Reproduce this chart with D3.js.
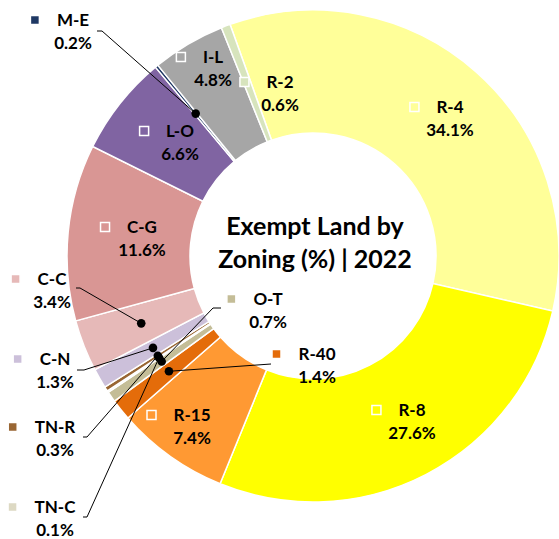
<!DOCTYPE html>
<html>
<head>
<meta charset="utf-8">
<script src="https://cdn.jsdelivr.net/npm/d3@7"></script>
<style>
    body { margin: 0; background: #fff; }
    svg { display: block; font-family: Lato, "Open Sans", sans-serif; font-weight: bold; }
</style>
</head>
<body>
<div id="app"></div>
<script>
"use strict";

// data, clockwise from the big R-4 slice
const categories = ["R-4", "R-8", "R-15", "R-40", "O-T", "TN-C", "TN-R", "C-N", "C-C", "C-G", "L-O", "M-E", "I-L", "R-2"];
const shares = [34.1, 27.6, 7.4, 1.4, 0.7, 0.1, 0.3, 1.3, 3.4, 11.6, 6.6, 0.2, 4.8, 0.6];
const sliceColors = ["#FFFF99", "#FFFF00", "#FF9933", "#E46C0A", "#C4BD97", "#DDD9C3", "#996633",
    "#CCC0DA", "#E6B9B8", "#D99694", "#8064A2", "#1F3864", "#A6A6A6", "#D7E4BD"];
const titleLines = ["Exempt Land by", "Zoning (%) | 2022"];

// label layout: center x, first line y, and leader start (x, y, elbow x) when the label sits away from its slice
const labelLayout = {
    "R-4":  { x: 450, y: 107 },
    "R-8":  { x: 412, y: 410 },
    "R-15": { x: 192, y: 415 },
    "R-40": { x: 317, y: 354, leader: [271, 364, 271] },
    "O-T":  { x: 268, y: 299, leader: [221, 308, 213] },
    "TN-C": { x: 55,  y: 507, leader: [83, 517, 87] },
    "TN-R": { x: 55,  y: 427, leader: [83, 437, 87] },
    "C-N":  { x: 55,  y: 359, leader: [77, 370, 84] },
    "C-C":  { x: 52,  y: 279, leader: [76, 288, 80] },
    "C-G":  { x: 142, y: 227 },
    "L-O":  { x: 180, y: 131 },
    "M-E":  { x: 73,  y: 20,  leader: [97, 31, 102] },
    "I-L":  { x: 213, y: 57 },
    "R-2":  { x: 280, y: 82 }
};

const width = 559, height = 539;
const cx = 313, cy = 256;
const outerR = 246, innerR = 123;
const startAngle = -19.7 * Math.PI / 180;

const svg = d3.select("#app").append("svg")
    .attr("width", width)
    .attr("height", height);

const pie = d3.pie()
    .sort(null)
    .value(d => d.share)
    .startAngle(startAngle)
    .endAngle(startAngle + 2 * Math.PI);

const rows = categories.map((name, i) => ({ name: name, share: shares[i], color: sliceColors[i] }));
const arcs = pie(rows);

const arc = d3.arc().innerRadius(innerR).outerRadius(outerR);
const midArc = d3.arc().innerRadius((innerR + outerR) / 2).outerRadius((innerR + outerR) / 2);

const chart = svg.append("g").attr("transform", `translate(${cx},${cy})`);

chart.selectAll("path.slice")
    .data(arcs)
    .enter()
    .append("path")
    .attr("class", "slice")
    .attr("d", arc)
    .attr("fill", d => d.data.color)
    .attr("stroke", "#fff")
    .attr("stroke-width", 1.5);

// title in the hole
svg.append("g")
    .selectAll("text")
    .data(titleLines)
    .enter()
    .append("text")
    .attr("x", cx + 2)
    .attr("y", (d, i) => 235 + i * 33)
    .attr("text-anchor", "middle")
    .attr("font-size", "25px")
    .attr("fill", "#000")
    .text(d => d);

// leader lines and dots
const withLeader = arcs.filter(d => labelLayout[d.data.name].leader);

svg.append("g")
    .selectAll("polyline")
    .data(withLeader)
    .enter()
    .append("polyline")
    .attr("fill", "none")
    .attr("stroke", "#000")
    .attr("stroke-width", 1)
    .attr("points", d => {
        const [lx, ly, ex] = labelLayout[d.data.name].leader;
        const [px, py] = midArc.centroid(d);
        return `${lx},${ly} ${ex},${ly} ${px + cx},${py + cy}`;
    });

svg.append("g")
    .selectAll("circle")
    .data(withLeader)
    .enter()
    .append("circle")
    .attr("cx", d => midArc.centroid(d)[0] + cx)
    .attr("cy", d => midArc.centroid(d)[1] + cy)
    .attr("r", 4.3)
    .attr("fill", "#000");

// data labels: key square + name, value underneath
const labels = svg.append("g")
    .selectAll("g")
    .data(arcs)
    .enter()
    .append("g");

labels.append("text")
    .attr("class", "name")
    .attr("x", d => labelLayout[d.data.name].x)
    .attr("y", d => labelLayout[d.data.name].y)
    .attr("dy", "0.36em")
    .attr("text-anchor", "middle")
    .attr("font-size", "17px")
    .text(d => d.data.name);

labels.append("text")
    .attr("x", d => labelLayout[d.data.name].x)
    .attr("y", d => labelLayout[d.data.name].y + 23)
    .attr("dy", "0.36em")
    .attr("text-anchor", "middle")
    .attr("font-size", "17px")
    .text(d => d3.format(".1f")(d.data.share) + "%");

labels.each(function(d) {
    const g = d3.select(this);
    const w = g.select("text.name").node().getComputedTextLength();
    const pos = labelLayout[d.data.name];
    g.insert("rect", "text")
        .attr("x", pos.x - w / 2 - 22 - 4.5)
        .attr("y", pos.y - 4.5)
        .attr("width", 9)
        .attr("height", 9)
        .attr("fill", d.data.color)
        .attr("stroke", "#fff")
        .attr("stroke-width", 1.5);
});
</script>
</body>
</html>
